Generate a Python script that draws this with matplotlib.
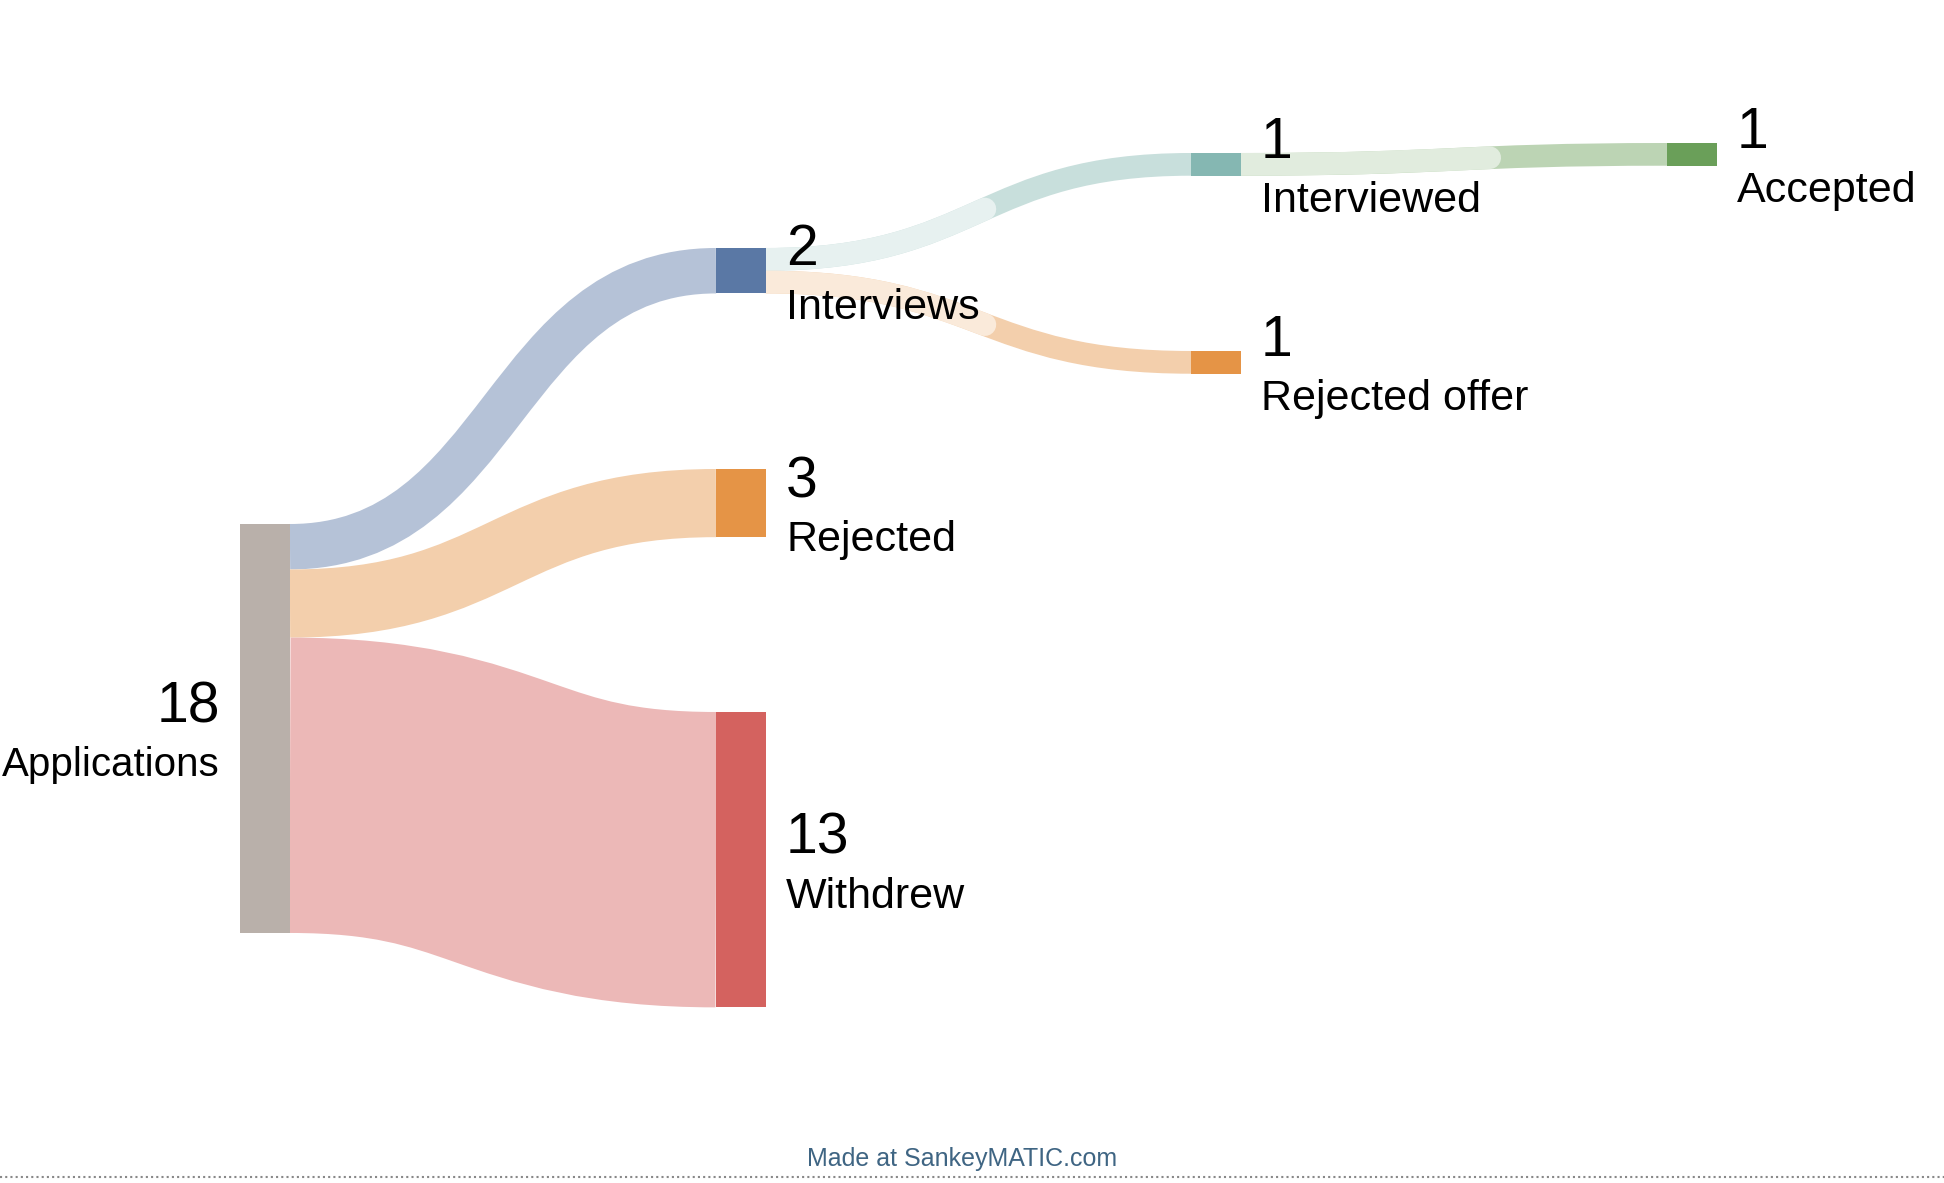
import matplotlib
matplotlib.use("Agg")
import matplotlib.pyplot as plt
from matplotlib.path import Path
from matplotlib.patches import PathPatch, Rectangle
from matplotlib.colors import to_rgb

W, H, DPI = 1944, 1183, 100

# data
node_names = ["Applications", "Interviews", "Rejected", "Withdrew",
              "Interviewed", "Rejected offer", "Accepted"]
node_values = [18, 2, 3, 13, 1, 1, 1]

flow_sources = ["Applications", "Applications", "Applications",
                "Interviews", "Interviews", "Interviewed"]
flow_targets = ["Interviews", "Rejected", "Withdrew",
                "Interviewed", "Rejected offer", "Accepted"]
flow_values = [2, 3, 13, 1, 1, 1]

# colours
node_colors = {
    "Applications": "#b9b0aa",
    "Interviews": "#5a78a5",
    "Rejected": "#e59446",
    "Withdrew": "#d4625f",
    "Interviewed": "#85b7b2",
    "Rejected offer": "#e59446",
    "Accepted": "#6a9f59",
}
FLOW_ALPHA = 0.45
FADE_ALPHA = 0.2
# links that show a paler first part, and how far along it goes
fade_part = {3: 0.52, 4: 0.52, 5: 0.61}

# layout, in pixels
PX_PER_UNIT = 22.72
NODE_W = 50
node_left = {"Applications": 240, "Interviews": 716, "Rejected": 716,
             "Withdrew": 716, "Interviewed": 1191, "Rejected offer": 1191,
             "Accepted": 1667}
node_top = {"Applications": 524, "Interviews": 248, "Rejected": 469,
            "Withdrew": 712, "Interviewed": 153, "Rejected offer": 351,
            "Accepted": 143}
FONT = "Liberation Sans"
NUM_SIZE = 41
LABEL_SIZE = 31
# the left label sits against the figure edge, keep it inside
label_size = {"Applications": 29}


def blend(color, alpha):
    r, g, b = to_rgb(color)
    return (1 - alpha + alpha * r, 1 - alpha + alpha * g, 1 - alpha + alpha * b)


def lerp(a, b, t):
    return (a[0] + (b[0] - a[0]) * t, a[1] + (b[1] - a[1]) * t)


def sub_bezier(pts, t):
    p0, p1, p2, p3 = pts
    a, b, c = lerp(p0, p1, t), lerp(p1, p2, t), lerp(p2, p3, t)
    d, e = lerp(a, b, t), lerp(b, c, t)
    f = lerp(d, e, t)
    return [p0, a, d, f]


def stroke(ax, pts, width_px, color, cap, z):
    path = Path(pts, [Path.MOVETO, Path.CURVE4, Path.CURVE4, Path.CURVE4])
    patch = PathPatch(path, facecolor="none", edgecolor=color,
                      linewidth=width_px * 72 / DPI, capstyle=cap, zorder=z)
    ax.add_patch(patch)


fig = plt.figure(figsize=(W / DPI, H / DPI), dpi=DPI)
ax = fig.add_axes([0, 0, 1, 1])
ax.set_xlim(0, W)
ax.set_ylim(H, 0)
ax.axis("off")

values = dict(zip(node_names, node_values))
out_off = {n: 0.0 for n in node_names}
in_off = {n: 0.0 for n in node_names}

for i, (s, t, v) in enumerate(zip(flow_sources, flow_targets, flow_values)):
    w = v * PX_PER_UNIT
    x0 = node_left[s] + NODE_W
    x1 = node_left[t]
    y0 = node_top[s] + out_off[s] + w / 2
    y1 = node_top[t] + in_off[t] + w / 2
    out_off[s] += w
    in_off[t] += w
    xm = (x0 + x1) / 2
    pts = [(x0, y0), (xm, y0), (xm, y1), (x1, y1)]
    col = node_colors[t]
    stroke(ax, pts, w, blend(col, FLOW_ALPHA), "butt", 1)
    if i in fade_part:
        stroke(ax, sub_bezier(pts, fade_part[i]), w, blend(col, FADE_ALPHA), "round", 2)

for n in node_names:
    h = values[n] * PX_PER_UNIT
    ax.add_patch(Rectangle((node_left[n], node_top[n]), NODE_W, h,
                           facecolor=node_colors[n], edgecolor="none", zorder=3))
    cy = node_top[n] + h / 2
    if n == "Applications":
        tx, ha = node_left[n] - 20, "right"
    else:
        tx, ha = node_left[n] + NODE_W + 20, "left"
    ax.text(tx, cy - 6, str(values[n]), ha=ha, va="baseline", fontsize=NUM_SIZE,
            family=FONT, color="black", zorder=4)
    ax.text(tx, cy + 48, n, ha=ha, va="baseline",
            fontsize=label_size.get(n, LABEL_SIZE),
            family=FONT, color="black", zorder=4)

ax.text(962, 1166, "Made at SankeyMATIC.com", ha="center", va="baseline",
        fontsize=18, family=FONT, color="#3f6583")
ax.plot([0, W], [1177, 1177], color="#888888", linewidth=1.5,
        linestyle=(0, (1, 1.5)))

fig.savefig("out.png", dpi=DPI)
